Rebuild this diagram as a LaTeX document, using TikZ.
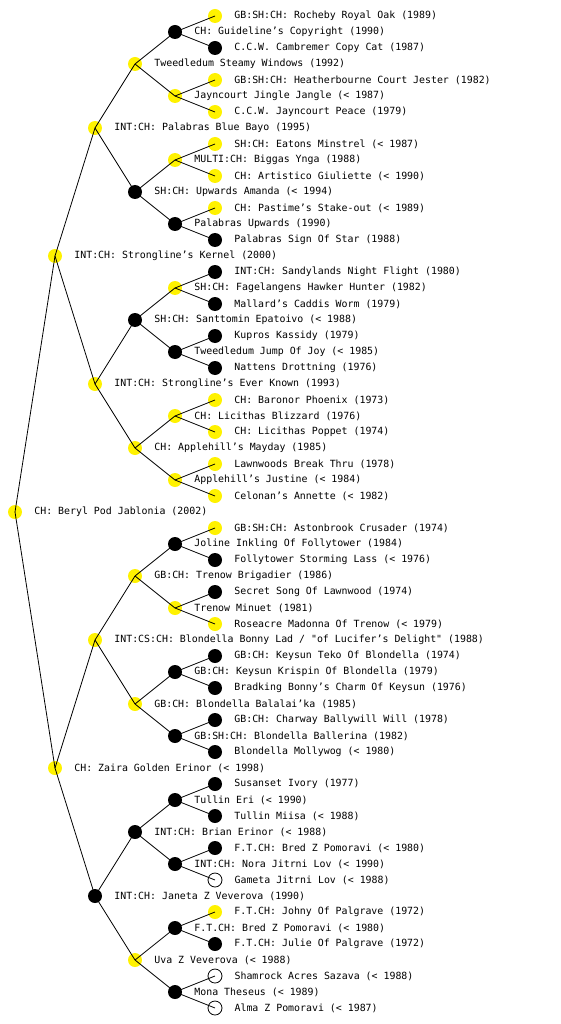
\documentclass[tikz,border=0pt]{standalone}
\usepackage{fontspec}
\setmonofont{DejaVu Sans Mono}
\usepackage{tikz}
\usetikzlibrary{positioning}

\begin{document}
\begin{tikzpicture}[
  x=1pt, y=-1pt,
  label distance=12pt,
  every label/.style={font=\ttfamily\fontsize{9.9}{10}\selectfont, inner sep=0pt},
  dot/.style={circle, minimum size=14pt, inner sep=0pt},
  yel/.style={dot, fill=yellow},
  blk/.style={dot, fill=black},
  wht/.style={dot, draw, fill=white, line width=0.8pt},
  link/.style={line width=0.8pt}
]
\useasboundingbox (0,0) rectangle (560,1024);

% generation 0 and 1
\node[yel, label={right:{CH: Beryl Pod Jablonia (2002)}}] (r) at (15,512) {};
\node[yel, label={right:{INT:CH: Strongline’s Kernel (2000)}}] (s) at (55,256) {};
\node[yel, label={right:{CH: Zaira Golden Erinor (< 1998)}}] (d) at (55,768) {};

% generation 2
\node[yel, label={right:{INT:CH: Palabras Blue Bayo (1995)}}] (ss) at (95,128) {};
\node[yel, label={right:{INT:CH: Strongline’s Ever Known (1993)}}] (sd) at (95,384) {};
\node[yel, label={right:{INT:CS:CH: Blondella Bonny Lad / "of Lucifer’s Delight" (1988)}}] (ds) at (95,640) {};
\node[blk, label={right:{INT:CH: Janeta Z Veverova (1990)}}] (dd) at (95,896) {};

% generation 3
\node[yel, label={right:{Tweedledum Steamy Windows (1992)}}] (sss) at (135,64) {};
\node[blk, label={right:{SH:CH: Upwards Amanda (< 1994)}}] (ssd) at (135,192) {};
\node[blk, label={right:{SH:CH: Santtomin Epatoivo (< 1988)}}] (sds) at (135,320) {};
\node[yel, label={right:{CH: Applehill’s Mayday (1985)}}] (sdd) at (135,448) {};
\node[yel, label={right:{GB:CH: Trenow Brigadier (1986)}}] (dss) at (135,576) {};
\node[yel, label={right:{GB:CH: Blondella Balalai’ka (1985)}}] (dsd) at (135,704) {};
\node[blk, label={right:{INT:CH: Brian Erinor (< 1988)}}] (dds) at (135,832) {};
\node[yel, label={right:{Uva Z Veverova (< 1988)}}] (ddd) at (135,960) {};

% generation 4
\node[blk, label={right:{CH: Guideline’s Copyright (1990)}}] (ssss) at (175,32) {};
\node[yel, label={right:{Jayncourt Jingle Jangle (< 1987)}}] (sssd) at (175,96) {};
\node[yel, label={right:{MULTI:CH: Biggas Ynga (1988)}}] (ssds) at (175,160) {};
\node[blk, label={right:{Palabras Upwards (1990)}}] (ssdd) at (175,224) {};
\node[yel, label={right:{SH:CH: Fagelangens Hawker Hunter (1982)}}] (sdss) at (175,288) {};
\node[blk, label={right:{Tweedledum Jump Of Joy (< 1985)}}] (sdsd) at (175,352) {};
\node[yel, label={right:{CH: Licithas Blizzard (1976)}}] (sdds) at (175,416) {};
\node[yel, label={right:{Applehill’s Justine (< 1984)}}] (sddd) at (175,480) {};
\node[blk, label={right:{Joline Inkling Of Follytower (1984)}}] (dsss) at (175,544) {};
\node[yel, label={right:{Trenow Minuet (1981)}}] (dssd) at (175,608) {};
\node[blk, label={right:{GB:CH: Keysun Krispin Of Blondella (1979)}}] (dsds) at (175,672) {};
\node[blk, label={right:{GB:SH:CH: Blondella Ballerina (1982)}}] (dsdd) at (175,736) {};
\node[blk, label={right:{Tullin Eri (< 1990)}}] (ddss) at (175,800) {};
\node[blk, label={right:{INT:CH: Nora Jitrni Lov (< 1990)}}] (ddsd) at (175,864) {};
\node[blk, label={right:{F.T.CH: Bred Z Pomoravi (< 1980)}}] (ddds) at (175,928) {};
\node[blk, label={right:{Mona Theseus (< 1989)}}] (dddd) at (175,992) {};

% generation 5
\node[yel, label={right:{GB:SH:CH: Rocheby Royal Oak (1989)}}] (sssss) at (215,16) {};
\node[blk, label={right:{C.C.W. Cambremer Copy Cat (1987)}}] (ssssd) at (215,48) {};
\node[yel, label={right:{GB:SH:CH: Heatherbourne Court Jester (1982)}}] (sssds) at (215,80) {};
\node[yel, label={right:{C.C.W. Jayncourt Peace (1979)}}] (sssdd) at (215,112) {};
\node[yel, label={right:{SH:CH: Eatons Minstrel (< 1987)}}] (ssdss) at (215,144) {};
\node[yel, label={right:{CH: Artistico Giuliette (< 1990)}}] (ssdsd) at (215,176) {};
\node[yel, label={right:{CH: Pastime’s Stake-out (< 1989)}}] (ssdds) at (215,208) {};
\node[blk, label={right:{Palabras Sign Of Star (1988)}}] (ssddd) at (215,240) {};
\node[blk, label={right:{INT:CH: Sandylands Night Flight (1980)}}] (sdsss) at (215,272) {};
\node[blk, label={right:{Mallard’s Caddis Worm (1979)}}] (sdssd) at (215,304) {};
\node[blk, label={right:{Kupros Kassidy (1979)}}] (sdsds) at (215,336) {};
\node[blk, label={right:{Nattens Drottning (1976)}}] (sdsdd) at (215,368) {};
\node[yel, label={right:{CH: Baronor Phoenix (1973)}}] (sddss) at (215,400) {};
\node[yel, label={right:{CH: Licithas Poppet (1974)}}] (sddsd) at (215,432) {};
\node[yel, label={right:{Lawnwoods Break Thru (1978)}}] (sddds) at (215,464) {};
\node[yel, label={right:{Celonan’s Annette (< 1982)}}] (sdddd) at (215,496) {};
\node[yel, label={right:{GB:SH:CH: Astonbrook Crusader (1974)}}] (dssss) at (215,528) {};
\node[blk, label={right:{Follytower Storming Lass (< 1976)}}] (dsssd) at (215,560) {};
\node[blk, label={right:{Secret Song Of Lawnwood (1974)}}] (dssds) at (215,592) {};
\node[yel, label={right:{Roseacre Madonna Of Trenow (< 1979)}}] (dssdd) at (215,624) {};
\node[blk, label={right:{GB:CH: Keysun Teko Of Blondella (1974)}}] (dsdss) at (215,656) {};
\node[blk, label={right:{Bradking Bonny’s Charm Of Keysun (1976)}}] (dsdsd) at (215,688) {};
\node[blk, label={right:{GB:CH: Charway Ballywill Will (1978)}}] (dsdds) at (215,720) {};
\node[blk, label={right:{Blondella Mollywog (< 1980)}}] (dsddd) at (215,752) {};
\node[blk, label={right:{Susanset Ivory (1977)}}] (ddsss) at (215,784) {};
\node[blk, label={right:{Tullin Miisa (< 1988)}}] (ddssd) at (215,816) {};
\node[blk, label={right:{F.T.CH: Bred Z Pomoravi (< 1980)}}] (ddsds) at (215,848) {};
\node[wht, label={right:{Gameta Jitrni Lov (< 1988)}}] (ddsdd) at (215,880) {};
\node[yel, label={right:{F.T.CH: Johny Of Palgrave (1972)}}] (dddss) at (215,912) {};
\node[blk, label={right:{F.T.CH: Julie Of Palgrave (1972)}}] (dddsd) at (215,944) {};
\node[wht, label={right:{Shamrock Acres Sazava (< 1988)}}] (dddds) at (215,976) {};
\node[wht, label={right:{Alma Z Pomoravi (< 1987)}}] (ddddd) at (215,1008) {};

% parent -> sire / dam
\draw[link] (r.center) -- (s.center);
\draw[link] (r.center) -- (d.center);
\foreach \p in {s, d, ss, sd, ds, dd, sss, ssd, sds, sdd, dss, dsd, dds, ddd,
                ssss, sssd, ssds, ssdd, sdss, sdsd, sdds, sddd,
                dsss, dssd, dsds, dsdd, ddss, ddsd, ddds, dddd}
{
  \draw[link] (\p.center) -- (\p s.center);
  \draw[link] (\p.center) -- (\p d.center);
}
\end{tikzpicture}
\end{document}
